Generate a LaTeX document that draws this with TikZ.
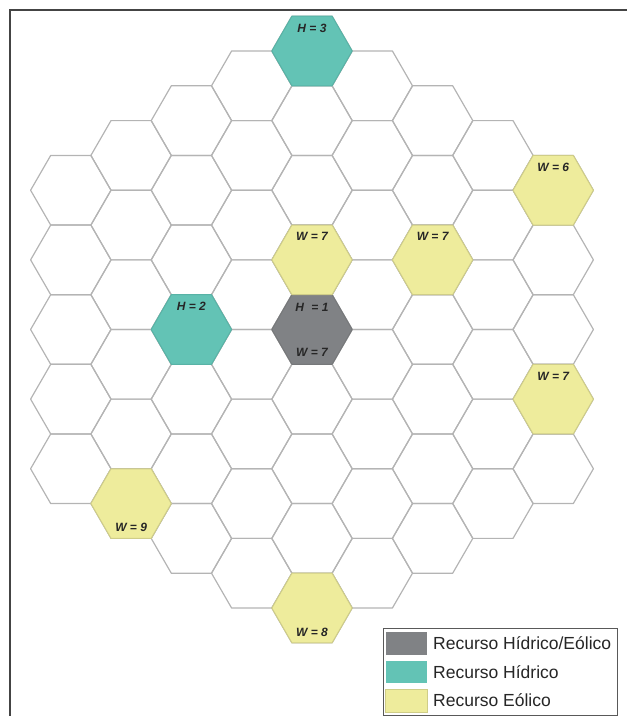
\documentclass[tikz,border=0pt]{standalone}
\usepackage{fontspec}
\setmainfont{Liberation Sans}
\definecolor{hexgray}{HTML}{B4B4B4}
\definecolor{teal1}{HTML}{63C3B5}
\definecolor{teal2}{HTML}{58B3A6}
\definecolor{yel1}{HTML}{EEEC9C}
\definecolor{yel2}{HTML}{CFCD88}
\definecolor{gray1}{HTML}{808285}
\definecolor{gray2}{HTML}{76787A}
\definecolor{framec}{HTML}{444444}
\definecolor{txt}{HTML}{262626}
\newcommand\hexshape{(0:40.2) -- (60:40.2) -- (120:40.2) -- (180:40.2) -- (240:40.2) -- (300:40.2) -- cycle}
\begin{document}
\begin{tikzpicture}[x=1bp,y=-1bp,
  hexline/.style={draw=hexgray,line width=1.2bp,line join=round},
  hydro/.style={fill=teal1,draw=teal2,line width=1bp,line join=round},
  wind/.style={fill=yel1,draw=yel2,line width=1bp,line join=round},
  both/.style={fill=gray1,draw=gray2,line width=1bp,line join=round},
  lbl/.style={font=\fontsize{12bp}{14bp}\selectfont\bfseries\itshape,text=txt,inner sep=0pt},
  legtxt/.style={font=\fontsize{17.5bp}{20bp}\selectfont,text=txt,anchor=west,inner sep=0pt}]
\useasboundingbox (0,0) rectangle (627,716);
% frame
\draw[framec,line width=1.3bp] (10,716) -- (10,10) -- (627,10);
% grid
\foreach \c in {-4,...,4}{
  \pgfmathtruncatemacro\n{9-abs(\c)}
  \pgfmathtruncatemacro\m{\n-1}
  \foreach \k in {0,...,\m}{
    \pgfmathsetmacro\xx{312+60.3*\c}
    \pgfmathsetmacro\yy{329.5+(\k-(\n-1)/2)*69.63}
    \draw[hexline,shift={(\xx,\yy)}] \hexshape;
  }
}
% coloured cells
\coordinate (cH3) at (312,50.98);
\coordinate (cW7a) at (312,259.87);
\coordinate (cH1) at (312,329.5);
\coordinate (cW8) at (312,608.02);
\coordinate (cH2) at (191.4,329.5);
\coordinate (cW7b) at (432.6,259.87);
\coordinate (cW6) at (553.2,190.24);
\coordinate (cW7c) at (553.2,399.13);
\coordinate (cW9) at (131.1,503.58);
\draw[hydro,shift={(cH3)}] \hexshape;
\draw[hydro,shift={(cH2)}] \hexshape;
\draw[both,shift={(cH1)}] \hexshape;
\foreach \p in {cW7a,cW8,cW7b,cW6,cW7c,cW9}{
  \draw[wind,shift={(\p)}] \hexshape;
}
% labels
\node[lbl] (lH3) at ([yshift=23bp]cH3) {H = 3};
\node[lbl] (lH2) at ([yshift=23bp]cH2) {H = 2};
\node[lbl] (lH1) at ([yshift=22bp]cH1) {H\,\, = 1};
\node[lbl] (lW7h) at ([yshift=-23bp]cH1) {W = 7};
\node[lbl] (lW7a) at ([yshift=23bp]cW7a) {W = 7};
\node[lbl] (lW7b) at ([yshift=23bp]cW7b) {W = 7};
\node[lbl] (lW6) at ([yshift=23bp]cW6) {W = 6};
\node[lbl] (lW7c) at ([yshift=23bp]cW7c) {W = 7};
\node[lbl] (lW9) at ([yshift=-24bp]cW9) {W = 9};
\node[lbl] (lW8) at ([yshift=-24bp]cW8) {W = 8};
% legend
\draw[draw=gray!70!black,line width=1bp,fill=white] (383,628) rectangle (617,715);
\fill[gray1] (385.5,632) rectangle (427,655);
\fill[teal1] (385.5,661) rectangle (427,683);
\filldraw[fill=yel1,draw=yel2,line width=0.8bp] (385.5,689.5) rectangle (427,712);
\node[legtxt] (t1) at (433,643.5) {Recurso Hídrico/Eólico};
\node[legtxt] (t2) at (433,672) {Recurso Hídrico};
\node[legtxt] (t3) at (433,700.5) {Recurso Eólico};
\end{tikzpicture}
\end{document}
